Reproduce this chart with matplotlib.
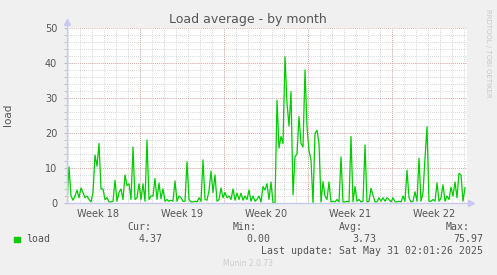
import numpy as np
import matplotlib
matplotlib.use('Agg')
import matplotlib.pyplot as plt

# load average, one sample every 4 hours
week17 = [0.5, 10.3, 2.0, 0.8, 2.0, 3.7, 1.5, 4.3, 3.0, 1.5, 2.0, 1.0, 0.3, 3.0,
          13.7, 10.5, 17.0, 4.0, 4.0, 1.0, 1.5, 0.3, 0.3, 0.5, 6.5, 0.5, 3.0, 4.0,
          1.0, 8.0, 5.0, 5.5, 1.0, 16.0, 1.0, 1.5, 5.5]
week18 = [1.0, 5.5, 0.5, 18.0, 1.0, 2.0, 2.0, 7.0, 1.0, 5.7, 1.2, 4.0, 0.5, 1.0,
          0.5, 0.8, 0.5, 6.3, 0.5, 2.0, 1.5, 0.5, 0.5, 11.8, 1.0, 0.3, 0.3, 0.5,
          0.3, 1.5, 0.5, 12.3, 1.0, 0.8, 3.5, 9.1, 3.0, 8.0, 0.5, 1.0, 4.3, 1.5]
week19 = [3.0, 1.5, 2.0, 1.0, 4.0, 0.8, 2.8, 1.0, 2.8, 0.8, 2.0, 1.0, 3.7, 0.5,
          2.0, 0.5, 1.0, 2.0, 0.3, 4.7, 3.7, 5.5, 1.0, 6.0, 0.0, 0.0, 29.4, 15.7,
          19.0, 17.0, 41.8, 28.6, 22.0, 31.8, 2.3, 13.2, 14.0, 24.7, 17.0, 16.0,
          38.0, 21.8]
week20 = [15.0, 12.3, 0.0, 19.9, 20.8, 17.0, 0.3, 6.1, 2.0, 1.0, 6.0, 0.3, 0.5,
          0.3, 1.0, 0.3, 13.2, 0.3, 0.3, 0.5, 0.3, 19.0, 0.3, 4.7, 0.5, 1.0, 0.3,
          0.5, 16.6, 0.3, 0.5, 4.2, 2.3, 0.3, 0.3, 1.5, 0.5, 1.5, 0.5, 1.5, 1.0,
          0.3]
week21 = [1.5, 0.3, 0.3, 0.5, 0.3, 2.0, 0.5, 9.4, 1.5, 0.3, 0.5, 3.2, 0.5, 12.8,
          0.5, 3.0, 12.8, 21.8, 0.5, 0.5, 1.0, 0.5, 5.8, 0.5, 1.5, 5.2, 0.5, 2.0,
          1.0, 4.5, 2.0, 6.0, 1.5, 8.5, 8.0, 0.5, 4.37]
load = np.array(week17 + week18 + week19 + week20 + week21)
hours = np.arange(len(load)) * 4

week_labels = ['Week 18', 'Week 19', 'Week 20', 'Week 21', 'Week 22']
first_week = 146  # hour where week 18 begins

bg = '#F0F0F0'
txt = '#555555'
axcol = '#C8C8F0'
mono = 'DejaVu Sans Mono'

fig = plt.figure(figsize=(4.97, 2.75), dpi=100, facecolor=bg)
ax = fig.add_axes([67/497, 1-203/275, 400/497, 175/275])
ax.set_facecolor('white')
ax.set_xlim(0, 800)
ax.set_ylim(0, 50)

# grid: minor dotted grey, major dotted red
for h in np.arange(2, 800, 24):
    ax.axvline(h, color='#C8C8C8', lw=0.6, ls=(0, (1, 1.5)), zorder=1)
for y in np.arange(2, 50, 2):
    ax.axhline(y, color='#C8C8C8', lw=0.6, ls=(0, (1, 1.5)), zorder=1)
for h in np.arange(first_week, 800, 168):
    ax.axvline(h, color='#E09898', lw=0.6, ls=(0, (1, 1.5)), zorder=2)
for y in [10, 20, 30, 40, 50]:
    ax.axhline(y, color='#E09898', lw=0.6, ls=(0, (1, 1.5)), zorder=2)

ax.plot(hours, load, color='#00CC00', lw=0.9, zorder=3)

for s in ax.spines.values():
    s.set_visible(False)
ax.plot([0, 0], [0, 51.5], color=axcol, lw=1, clip_on=False, zorder=4)
ax.plot([0, 806], [0, 0], color=axcol, lw=1, clip_on=False, zorder=4)
ax.plot([0], [51.8], marker='^', ms=4, color=axcol, clip_on=False, zorder=4)
ax.plot([808], [0], marker='>', ms=4, color=axcol, clip_on=False, zorder=4)

ax.set_yticks([0, 10, 20, 30, 40, 50])
ax.set_yticks(np.arange(0, 51, 2), minor=True)
ax.tick_params(axis='y', which='both', length=2, color='#BBBBBB', labelsize=7,
               labelcolor=txt, pad=5)
ax.set_xticks(first_week - 84 + 168 * np.arange(len(week_labels)))
ax.set_xticklabels(week_labels)
ax.tick_params(axis='x', length=0, labelsize=7, labelcolor=txt, pad=4)

fig.text(248/497, 1-19.5/275, 'Load average - by month', ha='center',
         va='center', fontsize=9.0, color=txt)
fig.text(8/497, 1-115/275, 'load', rotation=90, ha='center', va='center',
         fontsize=7.5, color=txt)
fig.text(488/497, 1-53/275, 'RRDTOOL / TOBI OETIKER', rotation=270,
         ha='center', va='center', fontsize=5, color='#C8C8C8')

# legend block
heads = ['Cur:', 'Min:', 'Avg:', 'Max:']
vals = ['4.37', '0.00', '3.73', '75.97']
head_x = [151, 257, 363, 470]
val_x = [163, 270, 376, 483]
for hx, vx, hd, v in zip(head_x, val_x, heads, vals):
    fig.text(hx/497, 1-227.5/275, hd, ha='right', va='center',
             family=mono, fontsize=7.1, color=txt)
    fig.text(vx/497, 1-239.5/275, v, ha='right', va='center',
             family=mono, fontsize=7.1, color=txt)
fig.patches.append(plt.Rectangle((14/497, 1-242/275), 5.5/497, 5.5/275,
                                 transform=fig.transFigure, color='#00CC00'))
fig.text(26.5/497, 1-239.5/275, 'load', ha='left', va='center',
         family=mono, fontsize=7.1, color=txt)
fig.text(483/497, 1-251.5/275, 'Last update: Sat May 31 02:01:26 2025',
         ha='right', va='center', family=mono, fontsize=7.1, color=txt)
fig.text(248/497, 1-264/275, 'Munin 2.0.73', ha='center', va='center',
         fontsize=5.5, color='#CCCCCC')

fig.savefig('out.png', dpi=100, facecolor=bg)
